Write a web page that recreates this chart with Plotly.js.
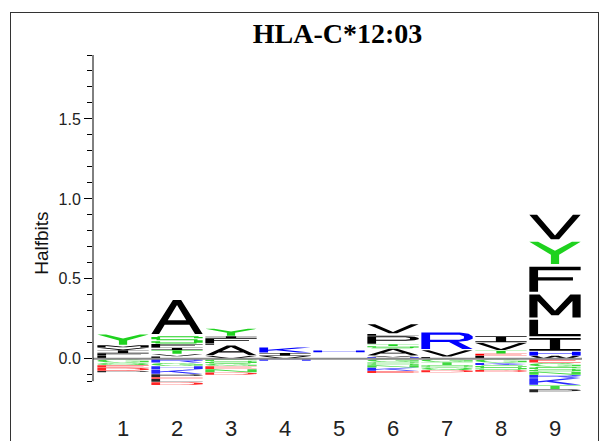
<!DOCTYPE html>
<html><head><meta charset="utf-8">
<script src="https://cdn.plot.ly/plotly-3.0.1.min.js"></script>
<style>
html,body{margin:0;padding:0;background:#fff;}
#chart{width:613px;height:441px;}
#frame{position:absolute;left:10px;top:12px;width:587px;height:440px;border:1.5px solid #333;pointer-events:none;}
</style></head><body>
<div id="chart"></div><div id="frame"></div>
<script>
// ---------------- DATA ----------------
const positions = [1,2,3,4,5,6,7,8,9];
const tickLabels = ['1','2','3','4','5','6','7','8','9'];
// positive stacks, bottom -> top (halfbits)
const posLetters = [
  ['L','F','I','V','M','Y'],
  ['L','V','T','I','F','S','A'],
  ['V','A','L','F','I','Y'],
  ['V','I','K'],
  [' ','H'],
  ['H','V','A','S','T','P','L','V'],
  ['L','V','R'],
  ['L','E','T','V','I'],
  ['W','H','I','L','M','F','Y','V']
];
const posHeights = [
  [0.02,0.015,0.02,0.015,0.015,0.07],
  [0.015,0.015,0.025,0.015,0.024,0.05,0.236],
  [0.019,0.068,0.01,0.033,0.012,0.048],
  [0.019,0.018,0.035],
  [0.04,0.012],
  [0.01,0.01,0.045,0.015,0.012,0.052,0.012,0.064],
  [0.012,0.044,0.114],
  [0.02,0.012,0.02,0.05,0.042],
  [0.02,0.026,0.089,0.115,0.16,0.175,0.155,0.17]
];
// negative stacks, from zero downward
const negLetters = [
  ['G','Q','E','D','P'],
  ['R','G','H','K','P','E','L','D'],
  ['S','G','E','N','D'],
  ['H'],
  [],
  ['G','S','N','K','E'],
  ['G','T','S','Q','D'],
  ['G','K','S','D'],
  ['E','G','S','N','R','K','T','P']
];
const negHeights = [
  [0.025,0.015,0.015,0.02,0.01],
  [0.025,0.02,0.02,0.03,0.02,0.01,0.02,0.02],
  [0.03,0.015,0.02,0.02,0.015],
  [0.012],
  [],
  [0.02,0.02,0.015,0.02,0.015],
  [0.02,0.02,0.015,0.015,0.015],
  [0.025,0.015,0.03,0.012],
  [0.025,0.025,0.03,0.02,0.02,0.045,0.025,0.02]
];
const yMajorTicks = [0,0.5,1.0,1.5];
const yMinorTicks = [-0.14,-0.1,0.1,0.2,0.3,0.4,0.6,0.7,0.8,0.9,1.1,1.2,1.3,1.4,1.6,1.7,1.8,1.9];

// ---------------- STYLE ----------------
const GREEN='#1ed21e', BLUE='#0000ff', RED='#ff0000', BLACK='#000000';
const letterColor = {A:BLACK,V:BLACK,L:BLACK,I:BLACK,P:BLACK,W:BLACK,F:BLACK,M:BLACK,
  G:GREEN,N:GREEN,Q:GREEN,S:GREEN,T:GREEN,Y:GREEN,C:GREEN,
  K:BLUE,R:BLUE,H:BLUE, D:RED,E:RED};
const colorOverride = {'6-7':BLACK,'8-4':BLACK};

// ---------------- GLYPHS (unit box) ----------------
function rect(x0,x1,y0,y1){return [[x0,y0],[x1,y0],[x1,y1],[x0,y1]];}
function ell(cx,cy,rx,ry,a0,a1,n){const p=[];for(let i=0;i<=n;i++){const a=(a0+(a1-a0)*i/n)*Math.PI/180;p.push([cx+rx*Math.cos(a),cy+ry*Math.sin(a)]);}return p;}
function band(a0,a1){const o=ell(0.5,0.5,0.5,0.5,a0,a1,24), i=ell(0.5,0.5,0.33,0.37,a1,a0,24);return o.concat(i);}
const GLYPH = {
  'A':{s:[[[0,0],[0.42,1],[0.58,1],[1,0],[0.85,0],[0.74,0.27],[0.26,0.27],[0.15,0]]],h:[[[0.32,0.4],[0.68,0.4],[0.5,0.85]]]},
  'Y':{s:[[[0,1],[0.17,1],[0.5,0.6],[0.83,1],[1,1],[0.58,0.42],[0.58,0],[0.42,0],[0.42,0.42]]],h:[]},
  'V':{s:[[[0,1],[0.15,1],[0.5,0.15],[0.85,1],[1,1],[0.58,0],[0.42,0]]],h:[]},
  'F':{s:[rect(0,0.17,0,1),rect(0,1,0.86,1),rect(0,0.85,0.45,0.58)],h:[]},
  'L':{s:[rect(0,0.17,0,1),rect(0,1,0,0.14)],h:[]},
  'I':{s:[rect(0,1,0.86,1),rect(0.4,0.6,0,1),rect(0,1,0,0.14)],h:[]},
  'T':{s:[rect(0,1,0.86,1),rect(0.41,0.59,0,0.87)],h:[]},
  'E':{s:[rect(0,0.17,0,1),rect(0,1,0.86,1),rect(0,0.9,0.43,0.57),rect(0,1,0,0.14)],h:[]},
  'H':{s:[rect(0,0.17,0,1),rect(0.83,1,0,1),rect(0.17,0.83,0.43,0.57)],h:[]},
  'M':{s:[[[0,0],[0,1],[0.2,1],[0.5,0.3],[0.8,1],[1,1],[1,0],[0.84,0],[0.84,0.72],[0.57,0.1],[0.43,0.1],[0.16,0.72],[0.16,0]]],h:[]},
  'N':{s:[[[0,0],[0,1],[0.18,1],[0.82,0.28],[0.82,1],[1,1],[1,0],[0.82,0],[0.18,0.72],[0.18,0]]],h:[]},
  'W':{s:[[[0,1],[0.14,1],[0.28,0.25],[0.43,1],[0.57,1],[0.72,0.25],[0.86,1],[1,1],[0.8,0],[0.65,0],[0.5,0.7],[0.35,0],[0.2,0]]],h:[]},
  'K':{s:[[[0,0],[0,1],[0.17,1],[0.17,0.55],[0.74,1],[1,1],[0.45,0.58],[1,0],[0.76,0],[0.33,0.47],[0.17,0.35],[0.17,0]]],h:[]},
  'P':{s:[[[0,0],[0,1],[0.75,1],[0.92,0.92],[1,0.75],[1,0.6],[0.92,0.45],[0.75,0.38],[0.17,0.38],[0.17,0]]],
       h:[[[0.17,0.52],[0.74,0.52],[0.83,0.6],[0.83,0.75],[0.74,0.86],[0.17,0.86]]]},
  'R':{s:[[[0,0],[0,1],[0.75,1],[0.92,0.92],[1,0.78],[1,0.62],[0.9,0.5],[0.72,0.44],[1,0],[0.8,0],[0.54,0.42],[0.17,0.42],[0.17,0]]],
       h:[[[0.17,0.56],[0.74,0.56],[0.83,0.63],[0.83,0.77],[0.74,0.86],[0.17,0.86]]]},
  'D':{s:[[[0,0],[0,1],[0.6,1],[0.85,0.9],[1,0.7],[1,0.3],[0.85,0.1],[0.6,0]]],
       h:[[[0.17,0.14],[0.55,0.14],[0.72,0.22],[0.83,0.38],[0.83,0.62],[0.72,0.78],[0.55,0.86],[0.17,0.86]]]},
  'S':{s:[rect(0.12,0.92,0.86,1),rect(0.83,1,0.7,0.9),rect(0,0.17,0.57,0.9),rect(0.1,0.9,0.43,0.57),rect(0.83,1,0.1,0.43),rect(0.08,0.88,0,0.14),rect(0,0.17,0.1,0.3)],h:[]},
  'C':{s:[band(45,315)],h:[]},
  'G':{s:[band(40,320),rect(0.55,1,0.4,0.54),rect(0.83,1,0.12,0.54)],h:[]},
  'O':{s:[ell(0.5,0.5,0.5,0.5,0,360,36)],h:[ell(0.5,0.5,0.33,0.37,0,360,36)]},
  'Q':{s:[ell(0.5,0.5,0.5,0.5,0,360,36),[[0.55,0.28],[0.75,0.28],[1,0],[0.8,0]]],h:[ell(0.5,0.5,0.33,0.37,0,360,36)]},
  ' ':{s:[],h:[]}
};
function area(p){let a=0;for(let i=0;i<p.length;i++){const q=p[i],r=p[(i+1)%p.length];a+=q[0]*r[1]-r[0]*q[1];}return a/2;}
function orient(p,ccw){const a=area(p);return ((a>0)===ccw)?p:p.slice().reverse();}

function glyphPath(ch,xc,y0,h){
  const g=GLYPH[ch]||GLYPH[' '];
  const padX=0.025, padY=0.05;
  const X=u=>(xc-0.5+padX+u*(1-2*padX));
  const Y=v=>(y0+h*(padY+v*(1-2*padY)));
  let d='';
  const add=(poly)=>{d+='M'+poly.map(p=>X(p[0]).toFixed(4)+','+Y(p[1]).toFixed(5)).join('L')+'Z';};
  g.s.forEach(p=>add(orient(p,true)));
  g.h.forEach(p=>add(orient(p,false)));
  return d;
}

const shapes=[];
positions.forEach((pos,i)=>{
  let base=0;
  posLetters[i].forEach((ch,j)=>{
    const h=posHeights[i][j];
    if(ch!==' '){
      shapes.push({type:'path',xref:'x',yref:'y',path:glyphPath(ch,pos,base,h),
        fillcolor:colorOverride[pos+'-'+j]||letterColor[ch],line:{width:0},layer:'above',fillrule:'nonzero'});
    }
    base+=h;
  });
  let top=0;
  negLetters[i].forEach((ch,j)=>{
    const h=negHeights[i][j];
    shapes.push({type:'path',xref:'x',yref:'y',path:glyphPath(ch,pos,top-h,h),
      fillcolor:letterColor[ch],opacity:0.85,line:{width:0},layer:'above',fillrule:'nonzero'});
    top-=h;
  });
});
shapes.push({type:'line',xref:'paper',x0:0,x1:1,yref:'y',y0:0,y1:0,line:{color:'#8a8a8a',width:2},layer:'above'});
shapes.push({type:'line',xref:'paper',x0:0,x1:0,yref:'y',y0:yMinorTicks[0],y1:1.9,line:{color:'#000',width:1},layer:'above'});

const layout={
  width:613,height:441,
  margin:{l:93,r:31,t:55,b:47},
  paper_bgcolor:'#fff',plot_bgcolor:'#fff',
  showlegend:false,
  title:{text:'<b>HLA-C*12:03</b>',font:{family:'Liberation Serif, Times New Roman, serif',size:28,color:'#000'},
    x:0.5,xref:'paper',xanchor:'center',y:0.925,yref:'container',yanchor:'middle'},
  xaxis:{range:[0.444,9.5],tickvals:positions,ticktext:tickLabels,ticks:'',showline:false,showgrid:false,zeroline:false,
    ticklabelstandoff:19,tickfont:{family:'Liberation Sans, Arial, sans-serif',size:22,color:'#222'},fixedrange:true},
  yaxis:{range:[-0.22,1.9],tickvals:yMajorTicks,tickformat:'.1f',ticks:'outside',ticklen:8,tickwidth:1,tickcolor:'#000',
    showline:false,showgrid:false,zeroline:false,
    minor:{tickmode:'array',tickvals:yMinorTicks,ticks:'outside',ticklen:5,tickwidth:1,tickcolor:'#000'},
    tickfont:{family:'Liberation Sans, Arial, sans-serif',size:16,color:'#222'},
    fixedrange:true},
  annotations:[{text:'Halfbits',xref:'paper',x:-0.104,xanchor:'center',yref:'y',y:0.72,yanchor:'middle',
    textangle:-90,showarrow:false,font:{family:'Liberation Sans, Arial, sans-serif',size:19,color:'#111'}}],
  shapes:shapes
};
Plotly.newPlot('chart',[{x:[],y:[],type:'scatter'}],layout,{staticPlot:true,displayModeBar:false});
</script></body></html>
